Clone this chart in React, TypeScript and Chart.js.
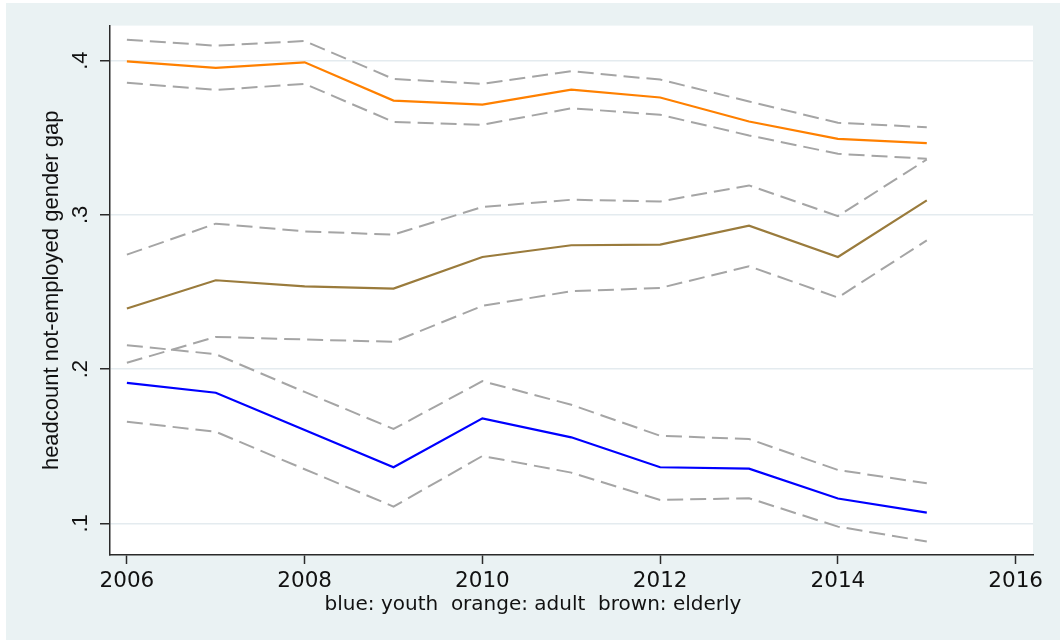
import { useEffect, useRef } from 'react';
import { Chart, registerables } from 'chart.js';

Chart.register(...registerables);

// Survey years
const years = [2006, 2007, 2008, 2009, 2010, 2011, 2012, 2013, 2014, 2015];

// Youth: point estimate with upper / lower confidence bounds
const youth = [0.1911, 0.1847, 0.1605, 0.1364, 0.1681, 0.1558, 0.1364, 0.1355, 0.1161, 0.107];
const youthHi = [0.2155, 0.2097, 0.1852, 0.1612, 0.1922, 0.1769, 0.1568, 0.1547, 0.1346, 0.126];
const youthLo = [0.1659, 0.1594, 0.1351, 0.1109, 0.1437, 0.1329, 0.1152, 0.1163, 0.0979, 0.0882];

// Adults
const adult = [0.3995, 0.3953, 0.3989, 0.3741, 0.3715, 0.3812, 0.3761, 0.3605, 0.3493, 0.3465];
const adultHi = [0.4136, 0.4097, 0.4127, 0.3881, 0.3849, 0.3931, 0.3877, 0.3735, 0.3597, 0.3568];
const adultLo = [0.3856, 0.381, 0.3849, 0.3603, 0.3584, 0.3691, 0.3649, 0.3515, 0.3396, 0.3364];

// Elderly
const elderly = [0.2393, 0.2576, 0.2537, 0.2522, 0.2727, 0.2803, 0.2807, 0.293, 0.2727, 0.3094];
const elderlyHi = [0.2742, 0.2943, 0.2893, 0.2872, 0.3051, 0.3098, 0.3087, 0.3191, 0.2992, 0.3359];
const elderlyLo = [0.2041, 0.2209, 0.2192, 0.2177, 0.241, 0.2505, 0.2526, 0.2667, 0.2464, 0.2835];

// Axis ticks and titles
const xTickValues = [2006, 2008, 2010, 2012, 2014, 2016];
const yTickValues = [0.1, 0.2, 0.3, 0.4];
const yTickLabels = ['.1', '.2', '.3', '.4'];
const xTitle = 'blue: youth  orange: adult  brown: elderly';
const yTitle = 'headcount not-employed gender gap';

const BLUE = '#0000FF';
const ORANGE = '#FF8000';
const BROWN = '#9A7B3C';
const GREY = '#A5A5A5';
const AXIS = '#2a2a2a';
const GRID = '#E4EBEF';

const toPoints = (vals: number[]) => vals.map((y, i) => ({ x: years[i], y }));

const ciLine = (label: string, vals: number[]) => ({
  label,
  data: toPoints(vals),
  borderColor: GREY,
  borderWidth: 2,
  borderDash: [16, 7],
  pointRadius: 0,
  fill: false,
  tension: 0,
});

const mainLine = (label: string, vals: number[], color: string) => ({
  label,
  data: toPoints(vals),
  borderColor: color,
  borderWidth: 2.2,
  pointRadius: 0,
  fill: false,
  tension: 0,
});

// White plotting region on the tinted page
const plotBackground = {
  id: 'plotBackground',
  beforeDraw(chart: any) {
    const { ctx, chartArea } = chart;
    ctx.save();
    ctx.fillStyle = '#FFFFFF';
    ctx.fillRect(chartArea.left, chartArea.top, chartArea.width, chartArea.height);
    ctx.restore();
  },
};

export default function App() {
  const canvasRef = useRef<HTMLCanvasElement>(null);

  useEffect(() => {
    if (!canvasRef.current) return;
    const chart = new Chart(canvasRef.current, {
      type: 'line',
      data: {
        datasets: [
          ciLine('adult upper', adultHi),
          ciLine('adult lower', adultLo),
          ciLine('elderly upper', elderlyHi),
          ciLine('elderly lower', elderlyLo),
          ciLine('youth upper', youthHi),
          ciLine('youth lower', youthLo),
          mainLine('adult', adult, ORANGE),
          mainLine('elderly', elderly, BROWN),
          mainLine('youth', youth, BLUE),
        ] as any,
      },
      plugins: [plotBackground],
      options: {
        animation: false,
        responsive: false,
        devicePixelRatio: 1,
        layout: { padding: { left: 27, right: 27, top: 22, bottom: 0 } },
        plugins: {
          legend: { display: false },
          tooltip: { enabled: false },
          title: {
            display: true,
            position: 'bottom',
            text: xTitle,
            color: '#111111',
            font: { family: 'DejaVu Sans', size: 20, weight: 'normal' },
            padding: { top: 3, bottom: 23 },
          },
        },
        scales: {
          x: {
            type: 'linear',
            min: 2005.81,
            max: 2016.195,
            afterBuildTicks: (s: any) => {
              s.ticks = xTickValues.map((v) => ({ value: v }));
            },
            afterFit: (s: any) => {
              s.height = 35;
            },
            ticks: {
              autoSkip: false,
              maxRotation: 0,
              padding: 4.5,
              color: '#111111',
              font: { family: 'DejaVu Sans', size: 21.5 },
              callback: (v: any) => String(v),
            },
            grid: {
              display: true,
              drawOnChartArea: false,
              drawTicks: true,
              tickLength: 9,
              tickColor: AXIS,
              tickWidth: 1.5,
            },
            border: { display: true, color: AXIS, width: 1.5 },
          },
          y: {
            type: 'linear',
            min: 0.0795,
            max: 0.4227,
            afterBuildTicks: (s: any) => {
              s.ticks = yTickValues.map((v) => ({ value: v }));
            },
            afterFit: (s: any) => {
              s.width = 77;
            },
            ticks: {
              autoSkip: false,
              minRotation: 90,
              maxRotation: 90,
              crossAlign: 'center',
              padding: 9.4,
              color: '#111111',
              font: { family: 'Liberation Sans', size: 22 },
              callback: (_v: any, i: number) => yTickLabels[i],
            },
            grid: {
              display: true,
              drawOnChartArea: true,
              drawTicks: true,
              tickLength: 10,
              color: GRID,
              lineWidth: 1.5,
              tickColor: AXIS,
              tickWidth: 1.5,
            },
            border: { display: true, color: AXIS, width: 1.5 },
            title: {
              display: true,
              text: yTitle,
              color: '#111111',
              font: { family: 'Liberation Sans', size: 22, weight: 'normal' },
              padding: { top: 6, bottom: 0 },
            },
          },
        },
      } as any,
    });
    return () => chart.destroy();
  }, []);

  return (
    <div style={{ position: 'fixed', left: 0, top: 0, width: 1063, height: 641, background: '#FFFFFF' }}>
      <div style={{ position: 'absolute', left: 6, top: 3, width: 1054, height: 637, background: '#EAF2F3' }}>
        <canvas ref={canvasRef} width={1054} height={637} style={{ display: 'block' }} />
      </div>
    </div>
  );
}
